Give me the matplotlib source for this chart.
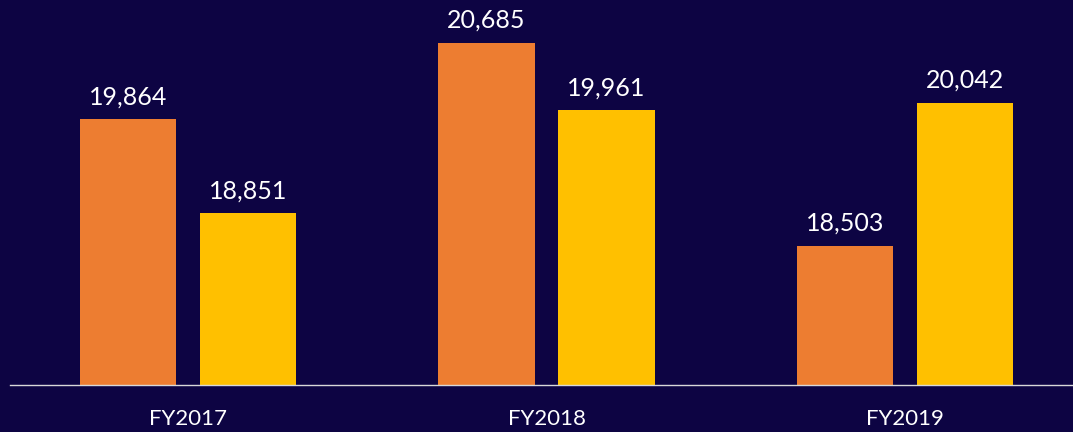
import matplotlib.pyplot as plt
import numpy as np

# datos
anios = ['FY2017', 'FY2018', 'FY2019']
serie_a = [19864, 20685, 18503]
serie_b = [18851, 19961, 20042]

fondo = '#0D0443'
naranja = '#ED7D31'
amarillo = '#FFC000'

plt.rcParams['font.family'] = ['Lato', 'DejaVu Sans']

fig = plt.figure(figsize=(10.73, 4.32), dpi=100, facecolor=fondo)
ax = fig.add_axes([10/1073, 47/432, 1063/1073, 385/432])
ax.set_facecolor(fondo)

x = np.arange(len(anios))
ancho = 0.268
b1 = ax.bar(x - 0.1674, serie_a, ancho, color=naranja)
b2 = ax.bar(x + 0.1674, serie_b, ancho, color=amarillo)

for barras in (b1, b2):
    for b in barras:
        ax.annotate(f'{int(b.get_height()):,}',
                    (b.get_x() + b.get_width() / 2, b.get_height()),
                    xytext=(0, 11), textcoords='offset pixels',
                    ha='center', va='bottom', color='white', fontsize=18)

ax.set_xlim(-0.4965, 2.4686)
ax.set_ylim(17000, 21149)
ax.set_xticks(x)
ax.set_xticklabels(anios, color='white', fontsize=16)
ax.tick_params(axis='x', length=0, pad=17)
ax.set_yticks([])
for lado in ['top', 'left', 'right']:
    ax.spines[lado].set_visible(False)
ax.spines['bottom'].set_color('#d9d9d9')
ax.spines['bottom'].set_linewidth(1)

plt.savefig('out.png', dpi=100, facecolor=fondo)
